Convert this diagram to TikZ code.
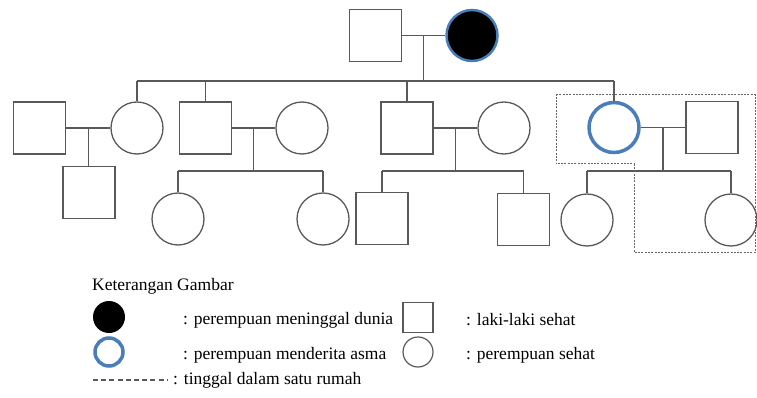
\documentclass[tikz,border=0pt]{standalone}
\usepackage{fontspec}
\setmainfont{Liberation Serif}
\newfontfamily\tnrfont{Liberation Serif}
\usetikzlibrary{calc}
\begin{document}
\begin{tikzpicture}[x=1pt,y=-1pt,
  ln/.style={draw=black!65,line width=1.3pt},
  male/.style={rectangle,draw=black!65,line width=1.3pt,minimum size=52pt,inner sep=0pt},
  female/.style={circle,draw=black!65,line width=1.3pt,minimum size=52pt,inner sep=0pt},
  asma/.style={circle,draw=asmablue,line width=3.5pt,minimum size=50pt,inner sep=0pt},
  dead/.style={circle,fill=black,draw=asmablue,line width=2.5pt,minimum size=51pt,inner sep=0pt},
  house/.style={draw=black!60,line width=1pt,dash pattern=on 2pt off 1.3pt},
  legdash/.style={draw=black!65,line width=1.1pt,dash pattern=on 5pt off 3.2pt},
  lbl/.style={anchor=west,inner sep=0pt,font=\tnrfont\fontsize{17.5}{20}\selectfont}
]
\definecolor{asmablue}{HTML}{4A7EBB}
\useasboundingbox (0,0) rectangle (757,398);
% generation 1
\node[male] (F0) at (375.5,35.5) {};
\node[dead] (M0) at (472,35.5) {};
% generation 2
\node[male] (A1) at (39.5,128) {};
\node[female] (A2) at (137,128) {};
\node[male] (B1) at (205.5,128) {};
\node[female] (B2) at (302,128) {};
\node[male] (C1) at (407,128) {};
\node[female] (C2) at (504,128) {};
\node[asma] (D1) at (614,127.5) {};
\node[male] (D2) at (712,127.5) {};
% generation 3
\node[male] (A3) at (89,192.5) {};
\node[female] (B3) at (178,219) {};
\node[female] (B4) at (323,219) {};
\node[male] (C3) at (382,218.5) {};
\node[male] (C4) at (523.5,219.5) {};
\node[female] (D3) at (587,220) {};
\node[female] (D4) at (731,220) {};
% marriages
\draw[ln] (F0.east) -- (M0.west);
\draw[ln] (A1.east) -- (A2.west);
\draw[ln] (B1.east) -- (B2.west);
\draw[ln] (C1.east) -- (C2.west);
\draw[ln] (D1.east) -- (D2.west);
\coordinate (m0) at ($(F0.east)!0.5!(M0.west)$);
\coordinate (mA) at ($(A1.east)!0.5!(A2.west)$);
\coordinate (mB) at ($(B1.east)!0.5!(B2.west)$);
\coordinate (mC) at ($(C1.east)!0.5!(C2.west)$);
\coordinate (mD) at ($(D1.east)!0.5!(D2.west)$);
% sibling line gen 2
\coordinate (s0) at (0,81);
\draw[ln] (m0) -- (m0 |- s0);
\draw[ln] (A2.north |- s0) -- (D1.north |- s0);
\draw[ln] (A2.north |- s0) -- (A2.north);
\draw[ln] (B1.north |- s0) -- (B1.north);
\draw[ln] (C1.north |- s0) -- (C1.north);
\draw[ln] (D1.north |- s0) -- (D1.north);
% children
\draw[ln] (mA) -- (mA |- A3.north);
\coordinate (s1) at (0,171);
\draw[ln] (mB) -- (mB |- s1);
\draw[ln] (B3.north |- s1) -- (B4.north |- s1);
\draw[ln] (B3.north |- s1) -- (B3.north);
\draw[ln] (B4.north |- s1) -- (B4.north);
\draw[ln] (mC) -- (mC |- s1);
\draw[ln] (C3.north |- s1) -- (C4.north |- s1);
\draw[ln] (C3.north |- s1) -- (C3.north);
\draw[ln] (C4.north |- s1) -- (C4.north);
\draw[ln] (mD) -- (mD |- s1);
\draw[ln] (D3.north |- s1) -- (D4.north |- s1);
\draw[ln] (D3.north |- s1) -- (D3.north);
\draw[ln] (D4.north |- s1) -- (D4.north);
% house outline
\draw[house] (556,95) -- (755.5,95) -- (755.5,252) -- (634,252) -- (634,164) -- (556,164) -- cycle;
% legend
\node[lbl] (k) at (92,286) {Keterangan Gambar};
\node[circle,fill=black,minimum size=32pt,inner sep=0pt] (ld) at (109,317) {};
\node[circle,draw=asmablue,line width=3.5pt,minimum size=28pt,inner sep=0pt] (la) at (109,352) {};
\node[lbl] (td) at (183,320) {: perempuan meninggal dunia};
\node[lbl] (ta) at (183,355) {: perempuan menderita asma};
\node[rectangle,draw=black!65,line width=1.2pt,minimum size=30pt,inner sep=0pt] (lm) at (418,317.5) {};
\node[circle,draw=black!65,line width=1.2pt,minimum size=30pt,inner sep=0pt] (lf) at (418,352) {};
\node[lbl] (tm) at (466,320) {: laki-laki sehat};
\node[lbl] (tf) at (466,355) {: perempuan sehat};
\coordinate (h1) at (93,380);
\coordinate (h2) at (168,380);
\draw[legdash] (h1) -- (h2);
\node[lbl] (th) at (173,380) {: tinggal dalam satu rumah};
\end{tikzpicture}
\end{document}
